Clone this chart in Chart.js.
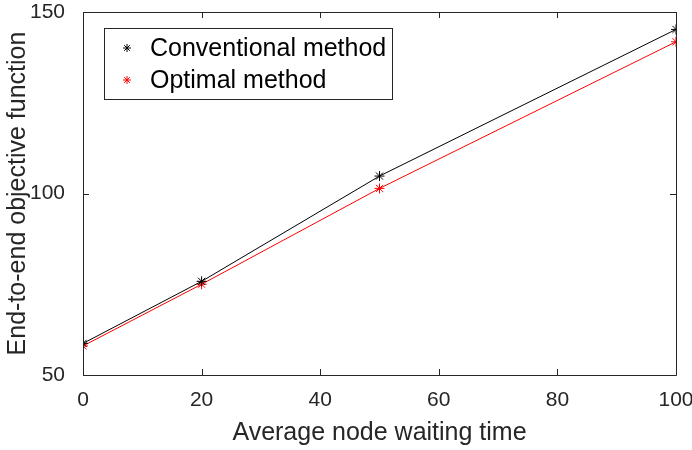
<!DOCTYPE html>
<html>
<head>
<meta charset="utf-8">
<script src="https://cdn.jsdelivr.net/npm/chart.js@4"></script>
<style>
  html, body { margin: 0; padding: 0; background: #fff; }
  #wrap { width: 692px; height: 450px; }
</style>
</head>
<body>
<div id="wrap"><canvas id="chart" width="692" height="450"></canvas></div>
<script>
// Chart data
const waitTimes = [0, 20, 50, 100];
const conventional = [58.7, 75.8, 104.8, 145.2];
const optimal = [58.0, 75.0, 101.4, 141.8];
const xTicks = [0, 20, 40, 60, 80, 100];
const yTicks = [50, 100, 150];
const seriesNames = ['Conventional method', 'Optimal method'];

const FONT = '"Liberation Sans", Arial, sans-serif';

function toPoints(values) {
    return waitTimes.map((x, i) => ({ x: x, y: values[i] }));
}

// Box frame with inward ticks (top/bottom and left/right)
const boxPlugin = {
    id: 'boxFrame',
    afterDraw(chart) {
        const { ctx, chartArea: a, scales } = chart;
        ctx.save();
        ctx.strokeStyle = '#262626';
        ctx.lineWidth = 1;
        ctx.beginPath();
        ctx.rect(Math.round(a.left) + 0.5, Math.round(a.top) + 0.5,
            Math.round(a.right - a.left), Math.round(a.bottom - a.top));
        ctx.stroke();
        const len = 6;
        ctx.beginPath();
        xTicks.forEach(v => {
            const px = Math.round(scales.x.getPixelForValue(v)) + 0.5;
            ctx.moveTo(px, a.bottom); ctx.lineTo(px, a.bottom - len);
            ctx.moveTo(px, a.top); ctx.lineTo(px, a.top + len);
        });
        yTicks.forEach(v => {
            const py = Math.round(scales.y.getPixelForValue(v)) + 0.5;
            ctx.moveTo(a.left, py); ctx.lineTo(a.left + len, py);
            ctx.moveTo(a.right, py); ctx.lineTo(a.right - len, py);
        });
        ctx.stroke();
        ctx.restore();
    }
};

// Legend box inside the plot
const legendPlugin = {
    id: 'innerLegend',
    afterDraw(chart) {
        const { ctx } = chart;
        const box = { x: 104.5, y: 28.5, w: 288, h: 71 };
        ctx.save();
        ctx.fillStyle = '#fff';
        ctx.fillRect(box.x, box.y, box.w, box.h);
        ctx.strokeStyle = '#262626';
        ctx.lineWidth = 1;
        ctx.strokeRect(box.x, box.y, box.w, box.h);
        ctx.font = '25px ' + FONT;
        ctx.textBaseline = 'middle';
        chart.data.datasets.forEach((ds, i) => {
            const cy = 48 + i * 32;
            ctx.strokeStyle = ds.borderColor;
            Chart.helpers.drawPoint(ctx, { pointStyle: 'star', radius: 4, borderWidth: 1 }, 127, cy);
            ctx.fillStyle = '#000';
            ctx.fillText(ds.label, 150, cy + 1);
        });
        ctx.restore();
    }
};

const ctx = document.getElementById('chart').getContext('2d');
new Chart(ctx, {
    type: 'scatter',
    data: {
        datasets: [{
            label: seriesNames[0],
            data: toPoints(conventional),
            showLine: true,
            borderColor: '#000000',
            backgroundColor: '#000000',
            borderWidth: 1,
            pointStyle: 'star',
            pointRadius: 5,
            pointBorderWidth: 1
        }, {
            label: seriesNames[1],
            data: toPoints(optimal),
            showLine: true,
            borderColor: '#ff0000',
            backgroundColor: '#ff0000',
            borderWidth: 1,
            pointStyle: 'star',
            pointRadius: 5,
            pointBorderWidth: 1
        }]
    },
    options: {
        responsive: false,
        animation: false,
        layout: { padding: { top: 12, right: 16, left: 0, bottom: 0 } },
        plugins: {
            legend: { display: false },
            tooltip: { enabled: false }
        },
        scales: {
            x: {
                type: 'linear',
                min: 0,
                max: 100,
                afterBuildTicks: s => { s.ticks = xTicks.map(v => ({ value: v })); },
                afterFit: s => { s.height = 75; s.paddingLeft = 0; s.paddingRight = 0; },
                grid: { display: false },
                border: { display: false },
                ticks: {
                    color: '#262626',
                    font: { family: FONT, size: 21 },
                    padding: 5,
                    maxRotation: 0
                },
                title: {
                    display: true,
                    text: 'Average node waiting time',
                    color: '#262626',
                    font: { family: FONT, size: 25 },
                    padding: { top: 0, bottom: 2 }
                }
            },
            y: {
                min: 50,
                max: 150,
                afterBuildTicks: s => { s.ticks = yTicks.map(v => ({ value: v })); },
                afterFit: s => { s.width = 83; s.paddingTop = 0; s.paddingBottom = 0; },
                grid: { display: false },
                border: { display: false },
                ticks: {
                    color: '#262626',
                    font: { family: FONT, size: 21 },
                    padding: 10
                },
                title: {
                    display: true,
                    text: 'End-to-end objective function',
                    color: '#262626',
                    font: { family: FONT, size: 25 },
                    padding: { top: 3, bottom: 0 }
                }
            }
        }
    },
    plugins: [boxPlugin, legendPlugin]
});
</script>
</body>
</html>
